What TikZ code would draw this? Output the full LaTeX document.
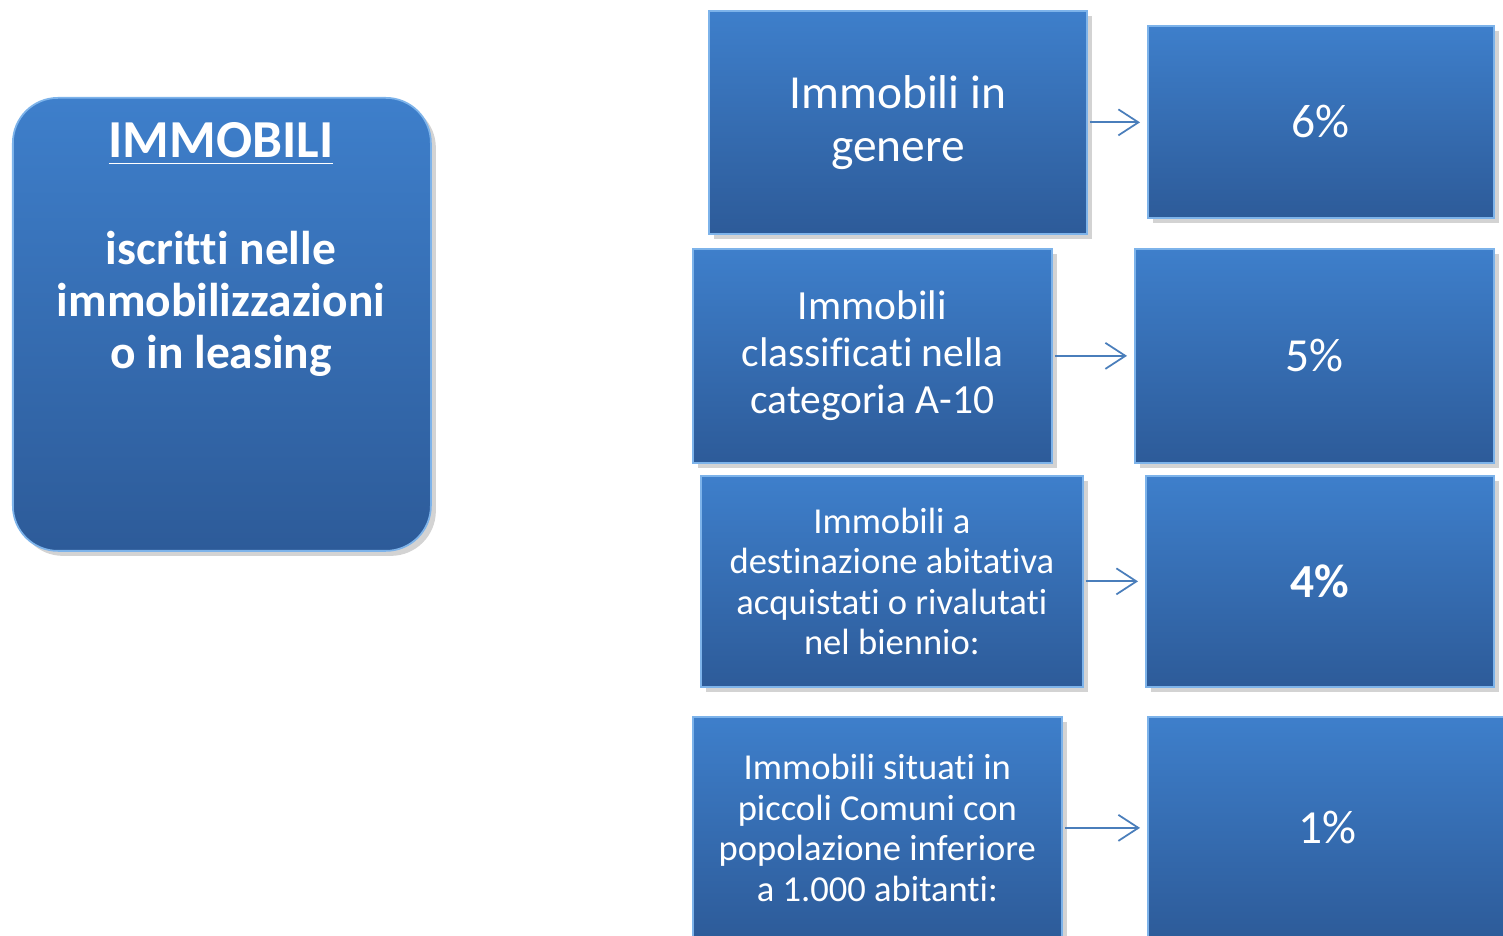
\documentclass[tikz,border=0pt]{standalone}
\usepackage{fontspec}
\setmainfont[Ligatures=NoCommon]{Carlito}
\usetikzlibrary{positioning,shadows,arrows.meta}

\definecolor{bluAlto}{HTML}{3E7FCB}
\definecolor{bluBasso}{HTML}{2D5B99}
\definecolor{bordo}{HTML}{7DB3EA}
\definecolor{blufreccia}{HTML}{4A7EBB}

\tikzset{
  cella/.style={anchor=north west, inner sep=0pt, top color=bluAlto,
    bottom color=bluBasso, draw=bordo, line width=0.5pt, text=white,
    align=center, drop shadow={opacity=0.35, shadow xshift=0.05cm,
    shadow yshift=-0.05cm}},
  grande/.style={font=\fontsize{13.5}{15.2}\selectfont},
  medio/.style={font=\fontsize{11.8}{13.4}\selectfont},
  piccolo/.style={font=\fontsize{10.4}{11.55}\selectfont},
  freccia/.style={draw=blufreccia, line width=0.5pt,
    -{Straight Barb[length=2mm,width=2.6mm]}, shorten <=0.02cm,
    shorten >=0.07cm}
}

\begin{document}
\begin{tikzpicture}
\useasboundingbox (0,0) rectangle (15.03,-9.36);
\clip (0,0) rectangle (15.03,-9.36);

% box a sinistra
\node[cella, rounded corners=0.45cm, minimum width=4.18cm,
  minimum height=4.53cm] (imm) at (0.12,-0.97) {};
\node[anchor=base, text=white, align=center,
  font=\bfseries\fontsize{13.5}{14.8}\selectfont] (immtxt) at (2.21,-3.69)
  {{\fontsize{15.2}{18}\selectfont\underline{IMMOBILI}}\\[0.55cm]
   iscritti nelle\\ immobilizzazioni\\ o in leasing};

% categorie
\node[cella, grande, minimum width=3.78cm, minimum height=2.23cm] (gen)
  at (7.08,-0.10) {Immobili in\\ genere};
\node[cella, medio, minimum width=3.59cm, minimum height=2.14cm] (cat)
  at (6.92,-2.48) {Immobili\\ classificati nella\\ categoria A-10};
\node[cella, piccolo, minimum width=3.82cm, minimum height=2.11cm] (abit)
  at (7.00,-4.75) {Immobili a\\ destinazione abitativa\\ acquistati o rivalutati\\ nel biennio:};
\node[cella, piccolo, minimum width=3.69cm, minimum height=2.22cm] (pic)
  at (6.92,-7.16) {Immobili situati in\\ piccoli Comuni con\\ popolazione inferiore\\ a 1.000 abitanti:};

% aliquote
\node[cella, grande, minimum width=3.46cm, minimum height=1.92cm] (p6)
  at (11.47,-0.25) {6\%};
\node[cella, grande, minimum width=3.59cm, minimum height=2.14cm] (p5)
  at (11.34,-2.48) {5\%};
\node[cella, grande, minimum width=3.48cm, minimum height=2.11cm] (p4)
  at (11.45,-4.75) {\bfseries 4\%};
\node[cella, grande, minimum width=3.60cm, minimum height=2.22cm] (p1)
  at (11.47,-7.16) {1\%};

\foreach \a/\b in {gen/p6,cat/p5,abit/p4,pic/p1}
  \draw[freccia] (\a.east) -- (\a.east -| \b.west);
\end{tikzpicture}
\end{document}
